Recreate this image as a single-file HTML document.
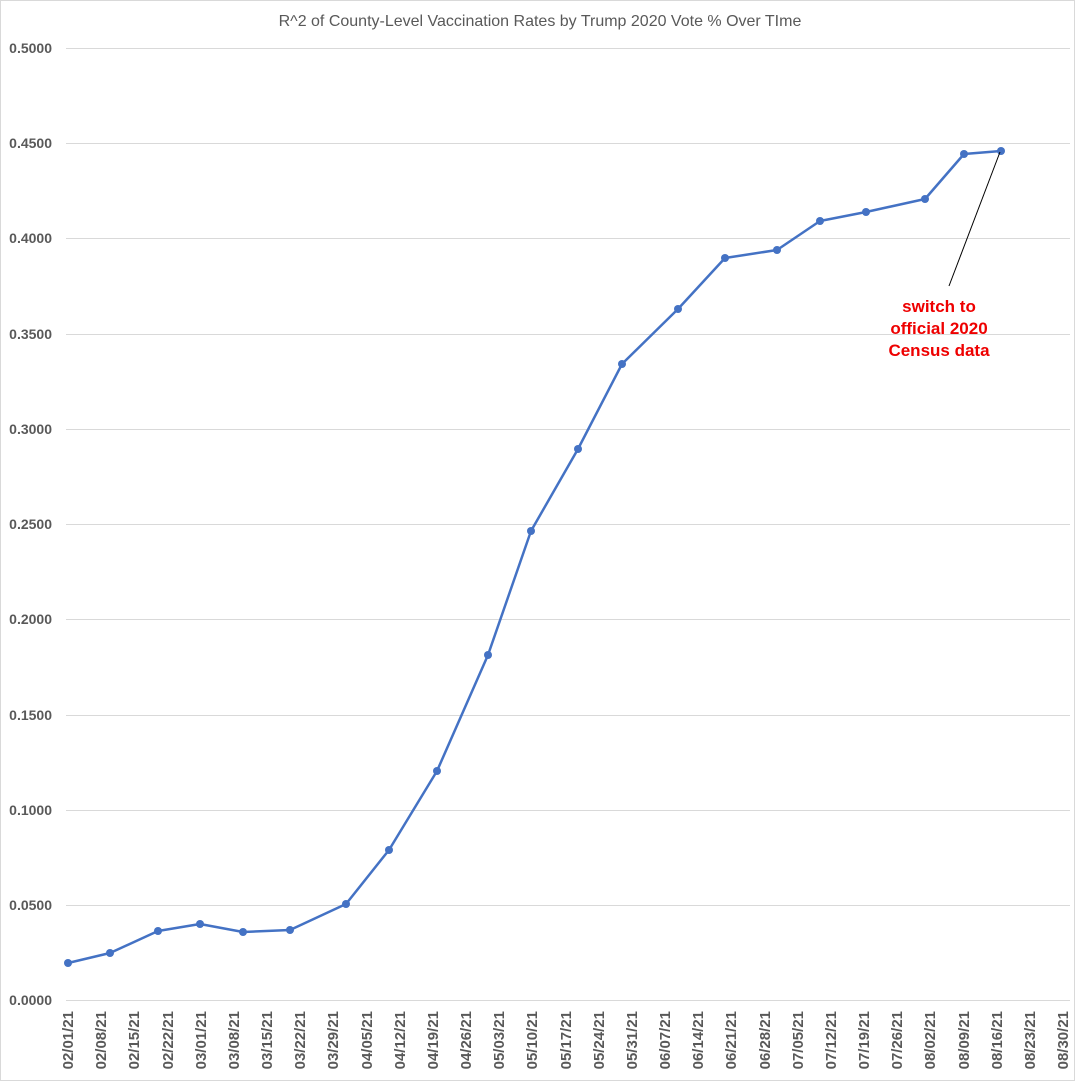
<!DOCTYPE html>
<html><head><meta charset="utf-8"><style>
html,body{margin:0;padding:0;background:#fff;}
svg{display:block;}
</style></head><body>
<svg width="1081" height="1081" viewBox="0 0 1081 1081" xmlns="http://www.w3.org/2000/svg" font-family="'Liberation Sans', sans-serif">
<rect x="0" y="0" width="1081" height="1081" fill="#fff"/>
<rect x="0.5" y="0.5" width="1074" height="1080" fill="none" stroke="#d9d9d9"/>
<text x="540" y="26" text-anchor="middle" font-size="16" fill="#595959">R^2 of County-Level Vaccination Rates by Trump 2020 Vote % Over TIme</text>
<g stroke="#d9d9d9" stroke-width="1">
<line x1="66" y1="48.5" x2="1070" y2="48.5"/>
<line x1="66" y1="143.5" x2="1070" y2="143.5"/>
<line x1="66" y1="238.5" x2="1070" y2="238.5"/>
<line x1="66" y1="334.5" x2="1070" y2="334.5"/>
<line x1="66" y1="429.5" x2="1070" y2="429.5"/>
<line x1="66" y1="524.5" x2="1070" y2="524.5"/>
<line x1="66" y1="619.5" x2="1070" y2="619.5"/>
<line x1="66" y1="715.5" x2="1070" y2="715.5"/>
<line x1="66" y1="810.5" x2="1070" y2="810.5"/>
<line x1="66" y1="905.5" x2="1070" y2="905.5"/>
<line x1="66" y1="1000.5" x2="1070" y2="1000.5"/>
</g>
<g font-size="14" font-weight="bold" fill="#595959" text-anchor="end">
<text x="52" y="53">0.5000</text>
<text x="52" y="148">0.4500</text>
<text x="52" y="243">0.4000</text>
<text x="52" y="339">0.3500</text>
<text x="52" y="434">0.3000</text>
<text x="52" y="529">0.2500</text>
<text x="52" y="624">0.2000</text>
<text x="52" y="720">0.1500</text>
<text x="52" y="815">0.1000</text>
<text x="52" y="910">0.0500</text>
<text x="52" y="1005">0.0000</text>
</g>
<polyline fill="none" stroke="#4472c4" stroke-width="2.5" stroke-linejoin="round" points="68,963 110,953 158,931 200,924 243,932 290,930 346,904 389,850 437,771 488,655 531,531 578,449 622,364 678,309 725,258 777,250 820,221 866,212 925,199 964,154 1001,151"/>
<g fill="#4472c4">
<circle cx="68" cy="963" r="4"/><circle cx="110" cy="953" r="4"/><circle cx="158" cy="931" r="4"/><circle cx="200" cy="924" r="4"/><circle cx="243" cy="932" r="4"/><circle cx="290" cy="930" r="4"/><circle cx="346" cy="904" r="4"/><circle cx="389" cy="850" r="4"/><circle cx="437" cy="771" r="4"/><circle cx="488" cy="655" r="4"/><circle cx="531" cy="531" r="4"/><circle cx="578" cy="449" r="4"/><circle cx="622" cy="364" r="4"/><circle cx="678" cy="309" r="4"/><circle cx="725" cy="258" r="4"/><circle cx="777" cy="250" r="4"/><circle cx="820" cy="221" r="4"/><circle cx="866" cy="212" r="4"/><circle cx="925" cy="199" r="4"/><circle cx="964" cy="154" r="4"/><circle cx="1001" cy="151" r="4"/>
</g>
<line x1="1000" y1="152" x2="949" y2="286" stroke="#000" stroke-width="1"/>
<g font-size="17" font-weight="bold" fill="#ee0000" text-anchor="middle">
<text x="939" y="312">switch to</text>
<text x="939" y="334">official 2020</text>
<text x="939" y="356">Census data</text>
</g>
<g font-size="15" font-weight="bold" fill="#595959" text-anchor="end">
<text transform="translate(73,1011) rotate(-90)">02/01/21</text>
<text transform="translate(106,1011) rotate(-90)">02/08/21</text>
<text transform="translate(139,1011) rotate(-90)">02/15/21</text>
<text transform="translate(173,1011) rotate(-90)">02/22/21</text>
<text transform="translate(206,1011) rotate(-90)">03/01/21</text>
<text transform="translate(239,1011) rotate(-90)">03/08/21</text>
<text transform="translate(272,1011) rotate(-90)">03/15/21</text>
<text transform="translate(305,1011) rotate(-90)">03/22/21</text>
<text transform="translate(338,1011) rotate(-90)">03/29/21</text>
<text transform="translate(372,1011) rotate(-90)">04/05/21</text>
<text transform="translate(405,1011) rotate(-90)">04/12/21</text>
<text transform="translate(438,1011) rotate(-90)">04/19/21</text>
<text transform="translate(471,1011) rotate(-90)">04/26/21</text>
<text transform="translate(504,1011) rotate(-90)">05/03/21</text>
<text transform="translate(537,1011) rotate(-90)">05/10/21</text>
<text transform="translate(571,1011) rotate(-90)">05/17/21</text>
<text transform="translate(604,1011) rotate(-90)">05/24/21</text>
<text transform="translate(637,1011) rotate(-90)">05/31/21</text>
<text transform="translate(670,1011) rotate(-90)">06/07/21</text>
<text transform="translate(703,1011) rotate(-90)">06/14/21</text>
<text transform="translate(736,1011) rotate(-90)">06/21/21</text>
<text transform="translate(770,1011) rotate(-90)">06/28/21</text>
<text transform="translate(803,1011) rotate(-90)">07/05/21</text>
<text transform="translate(836,1011) rotate(-90)">07/12/21</text>
<text transform="translate(869,1011) rotate(-90)">07/19/21</text>
<text transform="translate(902,1011) rotate(-90)">07/26/21</text>
<text transform="translate(935,1011) rotate(-90)">08/02/21</text>
<text transform="translate(969,1011) rotate(-90)">08/09/21</text>
<text transform="translate(1002,1011) rotate(-90)">08/16/21</text>
<text transform="translate(1035,1011) rotate(-90)">08/23/21</text>
<text transform="translate(1068,1011) rotate(-90)">08/30/21</text>
</g>
</svg>
</body></html>
